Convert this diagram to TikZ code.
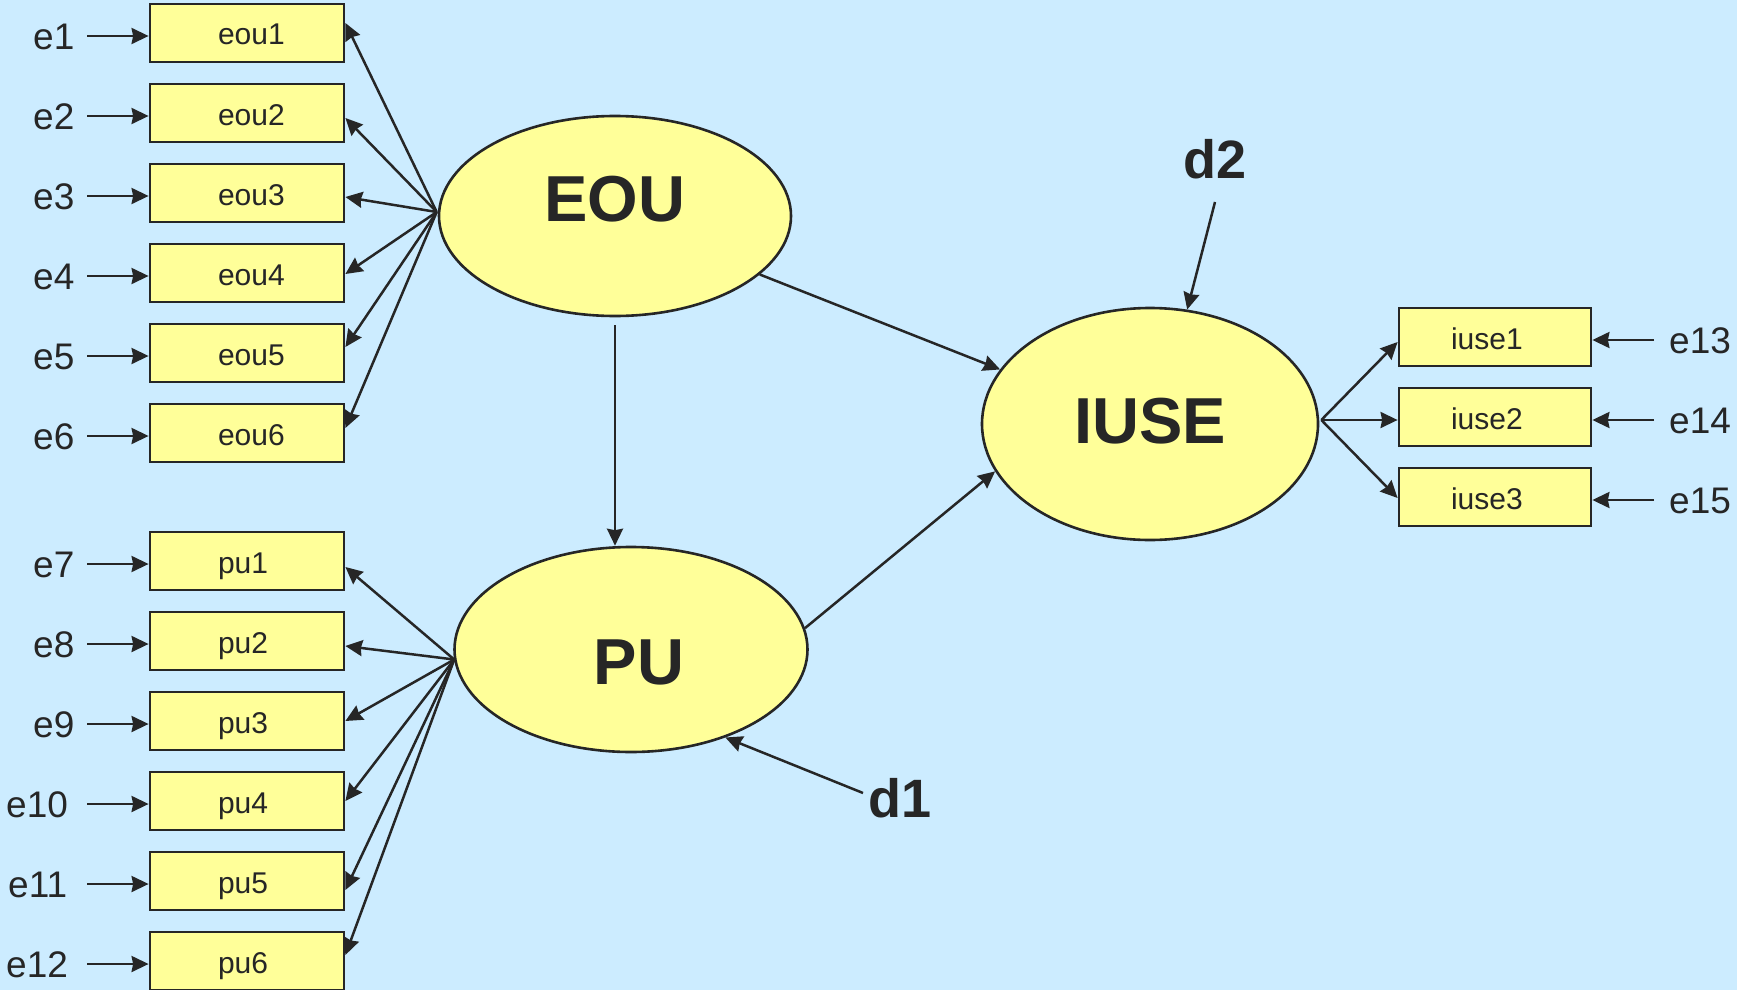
\documentclass[tikz,border=0pt]{standalone}
\usepackage{fontspec}
\setmainfont{Liberation Sans}
\usetikzlibrary{arrows.meta,shapes.geometric,calc}
\definecolor{bg}{HTML}{CCECFF}
\definecolor{boxfill}{HTML}{FFFF99}
\definecolor{ink}{HTML}{262626}

\begin{document}
\begin{tikzpicture}[x=1pt,y=-1pt,
  obs/.style={draw=ink,fill=boxfill,line width=2.8pt,minimum width=194pt,minimum height=58pt,
    inner sep=0pt,text height=24pt,text depth=0pt,font=\fontsize{30}{36}\selectfont,text=ink},
  lat/.style={ellipse,draw=ink,fill=boxfill,line width=2.6pt,inner sep=0pt},
  latname/.style={font=\fontsize{65}{78}\selectfont\bfseries,text=ink,inner sep=0pt,anchor=base},
  distname/.style={font=\fontsize{54}{64}\selectfont\bfseries,text=ink,inner sep=0pt,anchor=base},
  errname/.style={font=\fontsize{37}{44}\selectfont,text=ink,inner sep=0pt,anchor=base west},
  link/.style={draw=ink,line width=2.5pt,-{Stealth[length=17pt,width=16pt,inset=1.5pt]}},
]
\useasboundingbox (0,0) rectangle (1737,990);
\fill[bg] (0,0) rectangle (1737,990);

% latent variables
\node[lat,minimum width=352pt,minimum height=200pt] (EOU) at (615,216) {};
\node[latname] (EOUt) at (615,221) {EOU};
\node[lat,minimum width=353pt,minimum height=205pt] (PU) at (631,649.5) {};
\node[latname] (PUt) at (639,684) {PU};
\node[lat,minimum width=336pt,minimum height=232pt] (IUSE) at (1150,424) {};
\node[latname] (IUSEt) at (1150,443) {IUSE};

% ease of use indicators
\coordinate (EOUfan) at ($(EOU.west)+(-1,-4)$);
\foreach \i/\y/\d/\ex in {1/33/-10/33,2/113/5/33,3/193/4/33,4/273/1/33,5/353/-6/33,6/433/-5/33}{
  \node[obs] (eou\i) at (247,\y) {\makebox[58pt][l]{eou\i}};
  \node[errname] (e\i) at (\ex,\y+16) {e\i};
  \coordinate (s\i) at (87,\y+3);
  \draw[link] (s\i) -- (s\i -| eou\i.west);
  \draw[link] (EOUfan) -- ($(eou\i.east)+(0,\d)$);
}

% usefulness indicators
\coordinate (PUfan) at ($(PU.west)+(1,10)$);
\foreach \i/\k/\y/\d/\ex in {1/7/561/6/33,2/8/641/5/33,3/9/721/0/33,4/10/801/0/6,5/11/881/9/8,6/12/961/-6/6}{
  \node[obs] (pu\i) at (247,\y) {\makebox[58pt][l]{pu\i}};
  \node[errname] (e\k) at (\ex,\y+16) {e\k};
  \coordinate (s\k) at (87,\y+3);
  \draw[link] (s\k) -- (s\k -| pu\i.west);
  \draw[link] (PUfan) -- ($(pu\i.east)+(0,\d)$);
}

% intention to use indicators
\coordinate (IUSEfan) at ($(IUSE.east)+(2,-4)$);
\foreach \i/\k/\y/\d in {1/13/337/5,2/14/417/3,3/15/497/1}{
  \node[obs,minimum width=192pt] (iuse\i) at (1495,\y) {\makebox[88pt][l]{iuse\i}};
  \node[errname] (e\k) at (1669,\y+16) {e\k};
  \coordinate (s\k) at (1654,\y+3);
  \draw[link] (s\k) -- (s\k -| iuse\i.east);
  \draw[link] (IUSEfan) -- ($(iuse\i.west)+(0,\d)$);
}

% structural paths
\draw[link] ($(EOU.south)+(0,8)$) -- (EOU.south |- PU.north);
\draw[link] (EOU.-22) -- (IUSE.160);
\draw[link] (PU.7) -- (IUSE.197);

% disturbances
\node[distname] (d1) at (900,817) {d1};
\coordinate (d1s) at (863,793);
\draw[link] (d1s) -- (PU.-43);
\node[distname] (d2) at (1215,178) {d2};
\coordinate (d2s) at (1215,202);
\draw[link] (d2s) -- (IUSE.72);
\end{tikzpicture}
\end{document}
